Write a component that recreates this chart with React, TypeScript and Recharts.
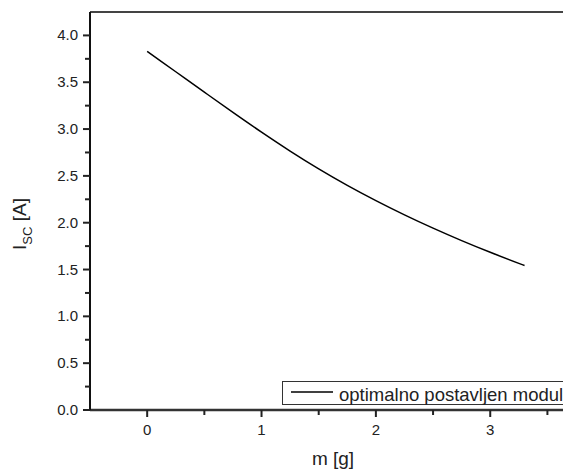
import { LineChart, Line, XAxis, YAxis, Legend } from 'recharts'

// m [g] and short-circuit current I_sc [A]
const massG = [0, 0.25, 0.5, 0.75, 1, 1.25, 1.5, 1.75, 2, 2.25, 2.5, 2.75, 3, 3.25, 3.3]
const iscA = [3.83, 3.612, 3.394, 3.178, 2.967, 2.765, 2.575, 2.399, 2.236, 2.084, 1.942, 1.809, 1.684, 1.566, 1.543]
const seriesName = 'optimalno postavljen modul'

const xTicks = [0, 0.5, 1, 1.5, 2, 2.5, 3, 3.5]
const yTicks = [0, 0.25, 0.5, 0.75, 1, 1.25, 1.5, 1.75, 2, 2.25, 2.5, 2.75, 3, 3.25, 3.5, 3.75, 4]

const data = massG.map((m, i) => ({ m, isc: iscA[i] }))

const FONT = '"Liberation Sans", Arial, sans-serif'
const INK = '#222'

function XTick(props: any) {
  const { x, y, payload } = props
  const major = Number.isInteger(payload.value)
  return (
    <g>
      <line x1={x} x2={x} y1={y} y2={y + (major ? 7 : 5)} stroke={INK} strokeWidth={2} />
      {major && (
        <text x={x} y={y + 25} textAnchor="middle" fontSize={15} fontFamily={FONT} fill={INK}>
          {payload.value}
        </text>
      )}
    </g>
  )
}

function YTick(props: any) {
  const { x, y, payload } = props
  const major = Number.isInteger(payload.value * 2)
  return (
    <g>
      <line x1={x - (major ? 7 : 5)} x2={x} y1={y} y2={y} stroke={INK} strokeWidth={2} />
      {major && (
        <text x={x - 12} y={y + 5} textAnchor="end" fontSize={15} fontFamily={FONT} fill={INK}>
          {payload.value.toFixed(1)}
        </text>
      )}
    </g>
  )
}

function YTitle(props: any) {
  const vb = props.viewBox || { x: 0, y: 4, width: 82, height: 398 }
  const tx = vb.x + 18
  const cy = vb.y + vb.height / 2 + 13
  return (
    <text
      x={tx}
      y={cy}
      transform={`rotate(-90, ${tx}, ${cy})`}
      textAnchor="middle"
      fontSize={19}
      fontFamily={FONT}
      fill={INK}
    >
      I
      <tspan fontSize={13} dy={6}>SC</tspan>
      <tspan dy={-6}> [A]</tspan>
    </text>
  )
}

function XTitle(props: any) {
  const vb = props.viewBox || { x: 82, y: 402, width: 486, height: 60 }
  return (
    <text x={vb.x + vb.width / 2} y={vb.y + 55} textAnchor="middle" fontSize={19} fontFamily={FONT} fill={INK}>
      m [g]
    </text>
  )
}

function LegendBox(props: any) {
  const label = props.payload?.[0]?.value ?? seriesName
  return (
    <div
      style={{
        position: 'absolute',
        left: 274,
        top: 373,
        width: 320,
        height: 24,
        boxSizing: 'border-box',
        border: '1px solid #333',
        background: '#fff',
        fontFamily: FONT,
      }}
    >
      <svg width={50} height={22} style={{ position: 'absolute', left: 0, top: 0 }}>
        <line x1={8} x2={51} y1={10} y2={10} stroke="#000" strokeWidth={1.5} />
      </svg>
      <span
        style={{
          position: 'absolute',
          left: 56,
          top: 4,
          fontSize: 18.5,
          lineHeight: '18.5px',
          color: INK,
          whiteSpace: 'nowrap',
        }}
      >
        {label}
      </span>
    </div>
  )
}

export default function App() {
  return (
    <div style={{ width: 563, height: 462, overflow: 'hidden', position: 'relative' }}>
      <LineChart width={570} height={462} data={data} margin={{ top: 3, right: 2, bottom: 0, left: 0 }}>
        <XAxis
          xAxisId="top"
          orientation="top"
          type="number"
          domain={[-0.5, 3.75]}
          height={1}
          tick={false}
          tickLine={false}
          axisLine={{ stroke: '#444', strokeWidth: 2 }}
        />
        <XAxis
          dataKey="m"
          type="number"
          domain={[-0.5, 3.75]}
          ticks={xTicks}
          interval={0}
          allowDataOverflow
          height={60}
          tickSize={0}
          tickMargin={0}
          tickLine={false}
          tick={XTick}
          axisLine={{ stroke: '#333', strokeWidth: 2.5 }}
          label={{ content: XTitle }}
        />
        <YAxis
          type="number"
          domain={[0, 4.25]}
          ticks={yTicks}
          interval={0}
          allowDataOverflow
          width={82}
          tickSize={0}
          tickMargin={0}
          tickLine={false}
          tick={YTick}
          axisLine={{ stroke: '#111', strokeWidth: 2 }}
          label={{ content: YTitle }}
        />
        <Legend
          layout="horizontal"
          verticalAlign="middle"
          align="center"
          content={LegendBox}
          wrapperStyle={{ position: 'absolute', left: 0, top: 0, width: 0, height: 0 }}
        />
        <Line
          dataKey="isc"
          name={seriesName}
          type="monotone"
          stroke="#000"
          strokeWidth={1.5}
          dot={false}
          isAnimationActive={false}
        />
      </LineChart>
    </div>
  )
}
